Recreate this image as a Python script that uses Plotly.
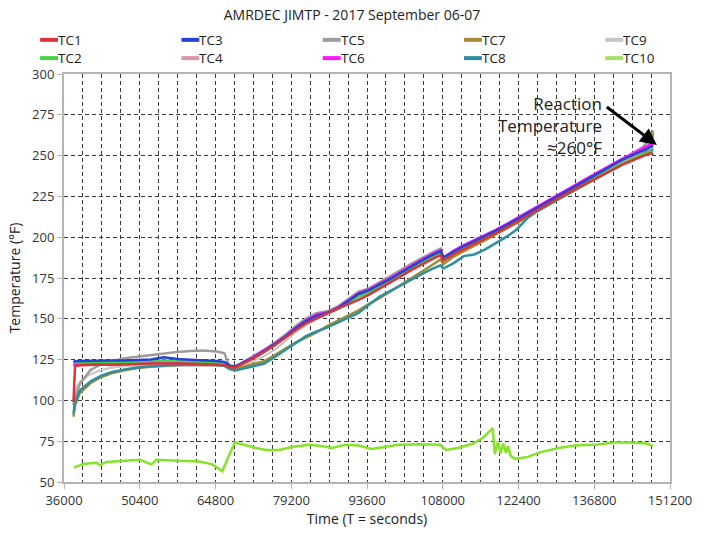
import plotly.graph_objects as go

# Sample times (seconds) shared by thermocouples TC1-TC9
TIME_START = [37800, 38100, 39000, 41000, 43000, 45000, 47500, 50000, 52500,
              55000, 57500, 60000, 62500, 65000, 66500, 67500, 68500]
TIME_RAMP = [70000, 72000, 74000, 76000, 78000, 80000, 82000, 84000, 86000,
             88000, 90000, 92000, 94000, 96000, 98000, 100000, 102000, 104000,
             106000, 107600]
TIME_LATE = [108100, 110000, 112000, 114000, 116000, 118000, 120000, 122000,
             124000, 126000, 128000, 130000, 132000, 134000, 136000, 138000,
             140000, 142000, 144000, 146000, 147500, 148000]
TIME = TIME_START + TIME_RAMP + TIME_LATE

# Temperatures (deg F) per thermocouple
TC1 = [99.0, 121.0, 121.5, 121.8, 122.0, 121.7, 122.2, 122.3, 122.6, 122.8, 122.6, 122.4, 122.3, 122.0, 121.6, 120.4, 120.2,
       122.5, 125.8, 129.6, 133.6, 138.2, 143.0, 147.2, 150.4, 153.2, 156.2, 158.8, 161.6, 164.8, 168.4, 172.2, 176.0, 179.8, 183.4, 186.6, 189.0,
       185.6, 189.4, 192.8, 195.9, 199.0, 202.2, 205.6, 209.2, 213.0, 216.6, 220.4, 224.0, 227.4, 230.8, 234.4, 237.8, 241.0, 244.2, 247.0, 249.8, 251.6, 250.5]
TC2 = [122.8, 123.2, 123.4, 123.5, 123.4, 123.6, 123.5, 123.7, 123.9, 124.4, 124.0, 123.7, 123.5, 123.2, 122.8, 120.8, 120.3,
       122.8, 126.0, 129.8, 133.9, 138.5, 143.6, 148.0, 151.2, 153.4, 156.0, 159.6, 163.8, 166.4, 169.8, 173.4, 177.2, 181.0, 184.6, 187.9, 190.4,
       186.4, 190.2, 193.6, 196.6, 199.6, 202.8, 206.2, 209.8, 213.6, 217.2, 221.0, 224.6, 228.0, 231.4, 235.0, 238.4, 241.8, 245.0, 248.0, 250.8, 252.6, 251.8]
TC3 = [123.5, 124.0, 124.1, 124.3, 124.2, 124.5, 124.4, 124.7, 125.0, 126.4, 125.3, 124.9, 124.6, 124.2, 123.6, 121.4, 120.8,
       123.0, 126.2, 130.0, 134.2, 138.8, 144.0, 148.6, 151.8, 153.6, 156.4, 160.6, 165.2, 167.6, 170.8, 174.4, 178.2, 182.0, 185.6, 189.0, 191.4,
       187.6, 191.2, 194.6, 197.6, 200.6, 203.8, 207.2, 210.8, 214.6, 218.2, 222.0, 225.6, 229.2, 232.6, 236.4, 240.0, 243.6, 247.2, 250.2, 253.2, 255.6, 256.0]
TC4 = [121.0, 121.4, 121.6, 121.9, 122.1, 122.3, 122.4, 122.6, 122.8, 123.2, 122.9, 122.7, 122.5, 122.2, 121.8, 120.5, 120.0,
       122.9, 126.3, 130.1, 134.2, 138.7, 143.8, 148.2, 151.6, 153.4, 156.2, 160.4, 164.8, 167.2, 170.6, 174.2, 178.0, 181.8, 185.4, 188.8, 191.2,
       186.8, 190.8, 194.2, 197.2, 200.2, 203.4, 206.8, 210.4, 214.2, 217.8, 221.6, 225.2, 228.8, 232.2, 236.0, 239.6, 243.2, 246.6, 249.8, 253.0, 255.8, 256.4]
TC5 = [97.0, 102.0, 110.0, 118.5, 122.0, 124.0, 125.8, 126.8, 127.6, 128.6, 129.6, 130.3, 130.5, 129.9, 128.8, 120.4, 119.8,
       123.4, 127.0, 131.0, 135.2, 140.0, 145.4, 150.2, 153.4, 154.6, 157.4, 162.0, 166.6, 168.6, 172.2, 176.0, 179.8, 183.6, 187.2, 190.6, 193.0,
       187.0, 191.0, 194.6, 197.8, 200.8, 204.0, 207.4, 211.0, 214.8, 218.4, 222.2, 225.8, 229.4, 232.8, 236.6, 240.2, 243.8, 247.4, 251.0, 255.0, 260.6, 265.4]
TC6 = [121.5, 122.0, 122.3, 122.6, 122.8, 123.0, 123.1, 123.3, 123.5, 124.0, 123.6, 123.4, 123.2, 122.9, 122.4, 120.6, 120.2,
       123.2, 126.6, 130.4, 134.6, 139.2, 144.4, 149.0, 152.6, 153.8, 156.8, 161.2, 165.8, 168.0, 171.4, 175.0, 178.8, 182.6, 186.2, 189.6, 192.0,
       187.2, 191.6, 195.2, 198.2, 201.2, 204.4, 207.8, 211.4, 215.2, 218.8, 222.6, 226.2, 229.8, 233.4, 237.2, 240.8, 244.4, 247.8, 251.0, 254.2, 257.0, 257.2]
TC7 = [90.0, 97.0, 104.5, 110.5, 114.2, 116.6, 118.5, 119.8, 120.6, 121.2, 121.6, 121.8, 121.8, 121.6, 121.2, 119.6, 119.2,
       120.6, 122.5, 124.0, 127.6, 131.4, 135.4, 138.4, 141.6, 145.6, 149.0, 152.0, 155.2, 159.2, 162.6, 166.6, 170.8, 175.0, 179.0, 183.0, 186.4,
       183.4, 188.0, 191.6, 194.8, 198.0, 201.4, 205.0, 208.6, 212.4, 216.0, 219.8, 223.4, 227.0, 230.4, 234.2, 237.8, 241.2, 244.6, 247.8, 251.0, 256.0, 264.0]
TC8 = [92.0, 99.0, 106.0, 111.5, 115.0, 117.2, 119.0, 120.2, 120.9, 121.4, 121.7, 121.9, 121.9, 121.7, 121.2, 119.2, 118.4,
       119.6, 121.2, 122.4, 126.4, 130.8, 135.2, 139.4, 142.2, 144.6, 147.6, 150.4, 153.6, 158.8, 163.6, 167.0, 170.6, 174.0, 177.4, 180.6, 182.8,
       180.8, 184.0, 188.4, 189.4, 192.4, 196.0, 200.0, 204.6, 211.4, 216.0, 219.8, 223.6, 227.2, 230.6, 234.2, 237.6, 241.0, 244.4, 247.4, 250.4, 253.0, 254.0]
TC9 = [100.0, 106.0, 111.5, 116.0, 118.6, 120.0, 120.9, 121.5, 121.9, 122.3, 122.4, 122.5, 122.4, 122.2, 121.8, 120.2, 119.8,
       121.8, 124.0, 127.0, 131.0, 136.0, 141.6, 146.0, 149.6, 152.4, 155.4, 158.8, 162.6, 166.0, 169.6, 173.4, 177.2, 181.0, 184.6, 188.0, 190.6,
       186.2, 190.0, 193.4, 196.4, 199.4, 202.6, 206.0, 209.6, 213.4, 217.0, 220.8, 224.4, 228.0, 231.4, 235.2, 238.8, 242.4, 245.8, 249.0, 252.2, 255.0, 262.0]

# TC10 (ambient) has its own sample times
TIME_TC10 = [37900, 39600, 42200, 42800, 44100, 47900, 50400, 52600, 53600, 56600,
             61700, 64200, 66100, 67400, 68500, 69300, 71800, 74400, 76900, 79300,
             82500, 85000, 86900, 89500, 92000, 94500, 97100, 99600, 103500, 107500,
             108600, 110900, 113800, 115600, 117500, 117900, 118500, 119000, 119500, 120000,
             120400, 120900, 121700, 124200, 126600, 129800, 133000, 137400, 140600, 143600,
             146800, 148000]
TC10 = [58.8, 61.0, 61.8, 60.3, 62.3, 63.0, 63.6, 60.8, 63.6, 63.2,
        62.6, 60.8, 56.6, 66.5, 74.3, 73.6, 71.4, 69.6, 69.6, 71.4,
        72.8, 72.0, 70.8, 72.8, 72.4, 70.2, 71.4, 72.8, 73.2, 72.8,
        69.6, 70.8, 73.6, 77.0, 83.0, 67.0, 75.0, 67.5, 73.5, 68.0,
        72.0, 66.0, 64.2, 65.4, 68.3, 70.7, 72.4, 73.0, 74.2, 74.2,
        73.6, 72.0]

X_TICKS = [36000, 50400, 64800, 79200, 93600, 108000, 122400, 136800, 151200]
Y_TICKS = [50, 75, 100, 125, 150, 175, 200, 225, 250, 275, 300]

# Legend layout: names in two rows, five columns
LEGEND_ROWS = [["TC1", "TC3", "TC5", "TC7", "TC9"],
               ["TC2", "TC4", "TC6", "TC8", "TC10"]]

COLORS = {
    "TC1": "#d8343c", "TC2": "#46d446", "TC3": "#2242d8", "TC4": "#dc96ac",
    "TC5": "#a29a9a", "TC6": "#ff14ff", "TC7": "#a28c34", "TC8": "#2f8f9f",
    "TC9": "#c6c6c6", "TC10": "#84e428",
}
LEGEND_SWATCH = dict(COLORS, TC10="#a2e266")

# (name, x, y, line width) in drawing order
SERIES = [
    ("TC10", TIME_TC10, TC10, 2.5),
    ("TC9", TIME, TC9, 2.0),
    ("TC4", TIME, TC4, 2.5),
    ("TC5", TIME, TC5, 2.5),
    ("TC7", TIME, TC7, 2.5),
    ("TC8", TIME, TC8, 2.5),
    ("TC6", TIME, TC6, 2.5),
    ("TC2", TIME, TC2, 2.5),
    ("TC3", TIME, TC3, 2.5),
    ("TC1", TIME, TC1, 2.5),
]

FONT = "Open Sans"
GRID = "#3a3a3a"
AXIS = "#b4b4b4"
W, H = 704, 536
ML, MR, MT, MB = 64, 31, 74, 38
PW, PH = W - ML - MR, H - MT - MB

fig = go.Figure()
for name, xs, ys, width in SERIES:
    fig.add_trace(go.Scatter(
        x=xs, y=ys, mode="lines", name=name,
        line=dict(color=COLORS[name], width=width), showlegend=False,
    ))

axis_common = dict(
    showline=True, linecolor=AXIS, linewidth=2, mirror=True,
    ticks="outside", ticklen=5, tickcolor=AXIS, tickwidth=1,
    showgrid=True, gridcolor=GRID, gridwidth=1, griddash="4px,3px",
    zeroline=False, tickfont=dict(family=FONT, size=13, color="#333"),
    title_font=dict(family=FONT, size=14, color="#222"),
)

fig.update_xaxes(
    range=[36000, 151200], tickvals=X_TICKS, tickformat="d",
    minor=dict(dtick=3600, tick0=36000, showgrid=True, gridcolor=GRID,
               gridwidth=1, griddash="4px,3px", ticks=""),
    title_text="Time (T = seconds)", title_standoff=6,
    **axis_common,
)
fig.update_yaxes(
    range=[50, 300], tickvals=Y_TICKS,
    title_text="Temperature (°F)", title_standoff=8,
    **axis_common,
)

fig.update_layout(
    width=W, height=H,
    margin=dict(l=ML, r=MR, t=MT, b=MB),
    paper_bgcolor="white", plot_bgcolor="white",
    font=dict(family=FONT, size=13, color="#333"),
    title=dict(text="AMRDEC JIMTP - 2017 September 06-07", x=0.5, xref="container",
               xanchor="center", y=1 - 15 / H, yanchor="middle",
               font=dict(family=FONT, size=14, color="#222")),
    showlegend=False,
)


def px_to_paper_x(px):
    return (px - ML) / PW


def px_to_paper_y(py):
    return (H - MB - py) / PH


# Two-row legend drawn as short swatches with labels
for r, row in enumerate(LEGEND_ROWS):
    ly = 38.5 + 19 * r
    for c, name in enumerate(row):
        lx = 40 + 142 * c
        fig.add_shape(
            type="line", xref="paper", yref="paper",
            x0=px_to_paper_x(lx), x1=px_to_paper_x(lx + 18),
            y0=px_to_paper_y(ly), y1=px_to_paper_y(ly),
            line=dict(color=LEGEND_SWATCH[name], width=4),
        )
        fig.add_annotation(
            x=px_to_paper_x(lx + 18), y=px_to_paper_y(ly),
            xref="paper", yref="paper", showarrow=False,
            text=name, xanchor="left", yanchor="middle",
            font=dict(family=FONT, size=13.5, color="#222"),
            borderpad=0, xshift=-1,
        )

# Reaction temperature callout
fig.add_annotation(
    x=138600, y=268.5, xref="x", yref="y", showarrow=False,
    text="Reaction<br>Temperature<br>≈260°F", align="right",
    xanchor="right", yanchor="middle",
    font=dict(family=FONT, size=17, color="#222"),
)
fig.add_annotation(
    x=148700, y=256.5, ax=138900, ay=280.5,
    xref="x", yref="y", axref="x", ayref="y",
    text="", showarrow=True, arrowhead=2, arrowsize=1.1,
    arrowwidth=3, arrowcolor="black",
)

fig.write_html("out.html")
